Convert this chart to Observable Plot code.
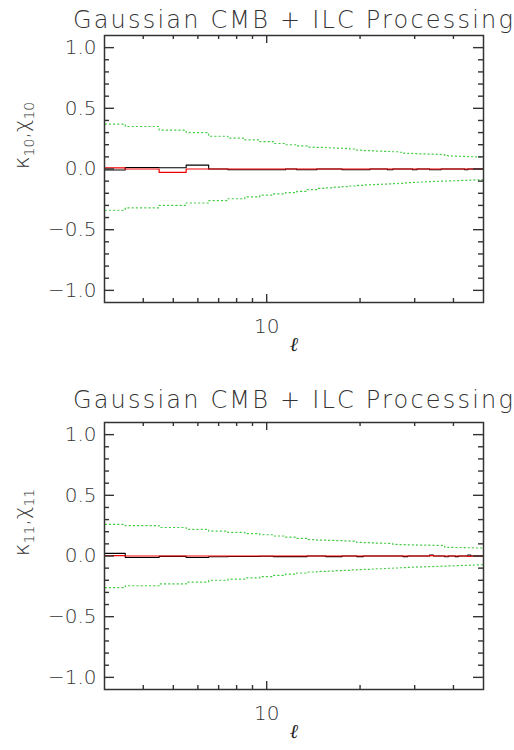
<!DOCTYPE html>
<html>
<head>
<meta charset="utf-8">
<script src="https://cdn.jsdelivr.net/npm/d3@7"></script>
<script src="https://cdn.jsdelivr.net/npm/@observablehq/plot@0.6"></script>
<style>
  html, body { margin: 0; padding: 0; background: #fff; }
  #chart svg { display: block; overflow: visible; }
</style>
</head>
<body>
<div id="chart"></div>
<script>
// ---------------- data ----------------
const title = "Gaussian CMB + ILC Processing";
const ells = [3,4,5,6,7,8,9,10,11,12,13,14,15,16,17,18,19,20,21,22,23,24,25,26,
  27,28,29,30,31,32,33,34,35,36,37,38,39,40,41,42,43,44,45,46,47,48,49,50];

// panel 1 : kappa_10 (black), chi_10 (red), green band
const kappa10 = [-0.008,0.012,0.010,0.032,0.000,-0.006,-0.006,-0.006,-0.006,0.000,-0.006,-0.006,
  0.000,0.000,0.000,-0.006,-0.006,-0.006,-0.006,0.000,0.000,0.000,-0.006,0.000,
  0.000,0.000,0.000,-0.006,0.000,0.000,0.000,-0.006,-0.006,-0.006,0.000,0.000,
  0.000,0.000,0.000,0.000,0.000,-0.006,0.000,0.000,0.000,0.000,0.000,0.000];
const chi10 = [0.010,0.000,-0.028,0.000,0.000,0.000,0.000,0.000,0.000,0.000,0.000,0.000,
  0.000,0.000,0.000,0.000,0.000,0.000,0.000,0.000,0.000,0.000,0.000,0.000,
  0.000,0.000,0.000,0.000,0.000,0.000,0.000,0.000,0.000,0.000,0.000,0.000,
  0.000,0.000,0.000,0.000,0.000,0.000,0.000,0.000,0.000,0.000,0.000,0.000];
const upper10 = [0.37,0.35,0.32,0.30,0.27,0.255,0.24,0.225,0.21,0.20,0.19,0.18,
  0.178,0.175,0.172,0.17,0.165,0.155,0.152,0.15,0.148,0.146,0.144,0.142,
  0.138,0.13,0.128,0.126,0.125,0.124,0.123,0.122,0.121,0.12,0.118,0.11,
  0.108,0.107,0.106,0.105,0.104,0.103,0.102,0.101,0.10,0.099,0.098,0.097];
const lower10 = [-0.34,-0.32,-0.30,-0.28,-0.26,-0.245,-0.23,-0.215,-0.205,-0.195,-0.185,-0.17,
  -0.16,-0.155,-0.15,-0.145,-0.14,-0.135,-0.13,-0.128,-0.126,-0.124,-0.122,-0.12,
  -0.118,-0.115,-0.113,-0.111,-0.109,-0.107,-0.105,-0.104,-0.102,-0.101,-0.10,-0.099,
  -0.098,-0.097,-0.096,-0.095,-0.094,-0.093,-0.092,-0.091,-0.09,-0.089,-0.088,-0.087];

// panel 2 : kappa_11 (black), chi_11 (red), green band
const kappa11 = [0.022,-0.012,-0.003,-0.012,-0.006,-0.004,-0.004,-0.002,-0.005,-0.005,-0.005,0.000,
  0.000,-0.005,-0.005,0.000,0.000,-0.005,0.000,0.000,0.000,0.000,0.000,0.000,
  0.000,-0.005,0.000,0.000,0.000,0.000,0.000,0.008,0.000,0.000,0.000,-0.006,
  0.000,0.000,-0.005,0.000,0.000,0.000,0.008,0.000,0.000,0.000,0.000,0.000];
const chi11 = [0.003,0.000,0.000,0.000,0.000,0.000,0.000,0.000,0.000,0.000,0.000,0.000,
  0.000,0.000,0.000,0.000,0.000,0.000,0.000,0.000,0.000,0.000,0.000,0.000,
  0.000,0.000,0.000,0.000,0.000,0.000,0.000,0.003,0.000,0.000,0.000,0.000,
  0.000,0.000,0.000,0.000,0.000,0.000,-0.004,0.000,0.000,0.000,0.000,0.000];
const upper11 = [0.26,0.25,0.235,0.22,0.205,0.195,0.185,0.175,0.165,0.155,0.145,0.135,
  0.13,0.128,0.126,0.124,0.122,0.112,0.11,0.108,0.106,0.105,0.104,0.095,
  0.094,0.093,0.092,0.091,0.09,0.09,0.089,0.089,0.088,0.088,0.088,0.072,
  0.071,0.071,0.070,0.070,0.069,0.069,0.068,0.068,0.067,0.066,0.066,0.065];
const lower11 = [-0.26,-0.245,-0.23,-0.215,-0.20,-0.19,-0.18,-0.17,-0.16,-0.15,-0.14,-0.132,
  -0.127,-0.124,-0.121,-0.118,-0.115,-0.112,-0.11,-0.107,-0.105,-0.103,-0.101,-0.099,
  -0.097,-0.095,-0.093,-0.091,-0.09,-0.089,-0.088,-0.087,-0.086,-0.085,-0.084,-0.083,
  -0.082,-0.081,-0.080,-0.079,-0.078,-0.077,-0.076,-0.075,-0.074,-0.073,-0.072,-0.071];

// tick values
const yMajor = [-1.0,-0.5,0.0,0.5,1.0];
const yMinor = [-0.9,-0.8,-0.7,-0.6,-0.4,-0.3,-0.2,-0.1,0.1,0.2,0.3,0.4,0.6,0.7,0.8,0.9];
const xMajor = [10];
const xMinor = [4,5,6,7,8,9,20,30,40];
const xDomain = [3, 50];
const yDomain = [-1.1, 1.1];

// ---------------- drawing ----------------
const FONT = "'DejaVu Sans', sans-serif";
const AX = "#333";
const steps = vals => vals.flatMap((v, i) => [{x: ells[i] - 0.5, y: v}, {x: ells[i] + 0.5, y: v}]);

function panel({k, c, up, lo, sym, sub, marginTop, marginBottom, titleDy}) {
  const width = 514, height = 375, mL = 104, mR = 31;
  const W = width - mL - mR, H = height - marginTop - marginBottom;
  const ylab = `${sym[0]}${sub},${sym[1]}${sub}`;
  const svg = Plot.plot({
    width, height, marginLeft: mL, marginRight: mR, marginTop, marginBottom,
    style: {fontFamily: FONT, fontSize: "20px", color: AX, background: "#fff", overflow: "visible"},
    x: {type: "log", domain: xDomain, axis: null},
    y: {domain: yDomain, axis: null},
    marks: [
      Plot.line(steps(up), {x: "x", y: "y", stroke: "#44cc44", strokeWidth: 1.2, strokeDasharray: "1.2,3", clip: true}),
      Plot.line(steps(lo), {x: "x", y: "y", stroke: "#44cc44", strokeWidth: 1.2, strokeDasharray: "1.2,3", clip: true}),
      Plot.line(steps(k), {x: "x", y: "y", stroke: "#000", strokeWidth: 1.1, clip: true}),
      Plot.line(steps(c), {x: "x", y: "y", stroke: "#ee0000", strokeWidth: 1.2, clip: true}),
      // inward ticks
      Plot.ruleY(yMajor, {insetRight: W - 10, stroke: AX, strokeWidth: 1.4}),
      Plot.ruleY(yMajor, {insetLeft: W - 10, stroke: AX, strokeWidth: 1.4}),
      Plot.ruleY(yMinor, {insetRight: W - 5, stroke: AX, strokeWidth: 1.4}),
      Plot.ruleY(yMinor, {insetLeft: W - 5, stroke: AX, strokeWidth: 1.4}),
      Plot.ruleX(xMajor, {insetTop: H - 8, stroke: AX, strokeWidth: 1.4}),
      Plot.ruleX(xMajor, {insetBottom: H - 8, stroke: AX, strokeWidth: 1.4}),
      Plot.ruleX(xMinor, {insetTop: H - 4, stroke: AX, strokeWidth: 1.4}),
      Plot.ruleX(xMinor, {insetBottom: H - 4, stroke: AX, strokeWidth: 1.4}),
      Plot.frame({stroke: AX, strokeWidth: 1.5}),
      Plot.axisY(yMajor, {tickSize: 0, tickPadding: 8, tickFormat: d3.format(".1f"), fill: AX, fontWeight: 300, label: null}),
      Plot.axisX(xMajor, {tickSize: 0, tickPadding: 16, tickFormat: d => String(d), fill: AX, fontWeight: 300, label: null}),
      Plot.text([title], {frameAnchor: "top", lineAnchor: "bottom", dy: titleDy, fontSize: 24, fontWeight: 300, fill: AX, className: "ttl"}),
      Plot.text([ylab], {frameAnchor: "left", rotate: -90, dx: -82, fontSize: 21, fill: AX, fontWeight: 300, className: "ylab"}),
      Plot.text(["ℓ"], {frameAnchor: "bottom", dy: 48, fontSize: 20, fontStyle: "italic", fontFamily: "'DejaVu Serif', serif", fill: "#222"})
    ]
  });
  // wider, Hershey-like spacing of the title
  d3.select(svg).select(".ttl text").style("letter-spacing", "2.2px");
  // rebuild y label with subscript tspans (text stays real text)
  const t = d3.select(svg).select(".ylab text");
  t.text(null);
  t.append("tspan").text(sym[0]);
  t.append("tspan").attr("font-size", 14).attr("dy", 5).text(sub);
  t.append("tspan").attr("dy", -5).text(",");
  t.append("tspan").text(sym[1]);
  t.append("tspan").attr("font-size", 14).attr("dy", 5).text(sub);
  return svg;
}

const el = document.getElementById("chart");
el.append(panel({k: kappa10, c: chi10, up: upper10, lo: lower10, sym: ["κ", "χ"], sub: "10", marginTop: 35, marginBottom: 73, titleDy: -8}));
el.append(panel({k: kappa11, c: chi11, up: upper11, lo: lower11, sym: ["κ", "χ"], sub: "11", marginTop: 47, marginBottom: 61, titleDy: -15}));
</script>
</body>
</html>
